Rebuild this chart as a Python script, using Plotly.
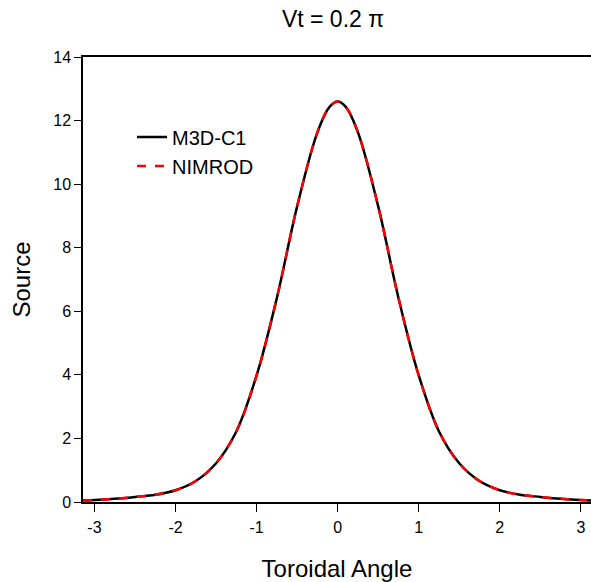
import plotly.graph_objects as go

angle = [-3.1416, -3.0, -2.75, -2.5, -2.25, -2.0, -1.75, -1.5, -1.25, -1.0, -0.75, -0.5, -0.25, -0.1, 0.0,
         0.1, 0.25, 0.5, 0.75, 1.0, 1.25, 1.5, 1.75, 2.0, 2.25, 2.5, 2.75, 3.0, 3.1416]
m3dc1 = [0.05, 0.06, 0.10, 0.16, 0.23, 0.37, 0.66, 1.22, 2.22, 3.98, 6.42, 9.3, 11.63, 12.43, 12.6,
         12.43, 11.63, 9.3, 6.42, 3.98, 2.22, 1.22, 0.66, 0.37, 0.23, 0.16, 0.10, 0.06, 0.05]
nimrod = [0.05, 0.06, 0.10, 0.16, 0.23, 0.37, 0.66, 1.22, 2.22, 3.98, 6.42, 9.3, 11.63, 12.43, 12.6,
          12.43, 11.63, 9.3, 6.42, 3.98, 2.22, 1.22, 0.66, 0.37, 0.23, 0.16, 0.10, 0.06, 0.05]
x_ticks = [-3, -2, -1, 0, 1, 2, 3]
y_ticks = [0, 2, 4, 6, 8, 10, 12, 14]

fig = go.Figure()
fig.add_trace(go.Scatter(x=angle, y=m3dc1, mode="lines", name="M3D-C1",
                         line=dict(color="black", width=2.5, shape="spline", smoothing=1.0)))
fig.add_trace(go.Scatter(x=angle, y=nimrod, mode="lines", name="NIMROD",
                         line=dict(color="#ff0000", width=2.5, dash="dash", shape="spline", smoothing=1.0)))

font_family = "Liberation Sans, Arial, sans-serif"
W, H = 591, 582
fig.update_layout(
    width=W, height=H,
    margin=dict(l=83, r=0, t=57, b=80),
    paper_bgcolor="white", plot_bgcolor="white",
    font=dict(family=font_family, color="black", size=16),
    title=dict(text="Vt = 0.2 π", x=333 / W, xanchor="center",
               y=1 - 19 / H, yanchor="middle", font=dict(size=23)),
    showlegend=True,
    legend=dict(x=0.0965, y=0.864, xanchor="left", yanchor="top",
                bgcolor="rgba(0,0,0,0)", font=dict(size=20),
                tracegroupgap=0),
)
fig.update_xaxes(
    range=[-3.1416, 3.125], tickvals=x_ticks, ticktext=[str(v) for v in x_ticks],
    showgrid=False, zeroline=False, showline=True, linecolor="black", linewidth=1.5,
    mirror=True, ticks="outside", ticklen=8, tickwidth=1.2, tickcolor="black",
    tickfont=dict(size=16), ticklabelstandoff=2,
    title=dict(text="Toroidal Angle", font=dict(size=24), standoff=26),
)
fig.update_yaxes(
    range=[0, 14], tickvals=y_ticks,
    showgrid=False, zeroline=False, showline=True, linecolor="black", linewidth=1.5,
    mirror=False, ticks="outside", ticklen=7, tickwidth=1.2, tickcolor="black",
    tickfont=dict(size=16),
    title=dict(text="Source", font=dict(size=24), standoff=16),
)

fig.write_html(
    "out.html",
    config={"displayModeBar": False},
    post_script="document.body.style.margin='0';document.body.style.overflow='hidden';",
)
